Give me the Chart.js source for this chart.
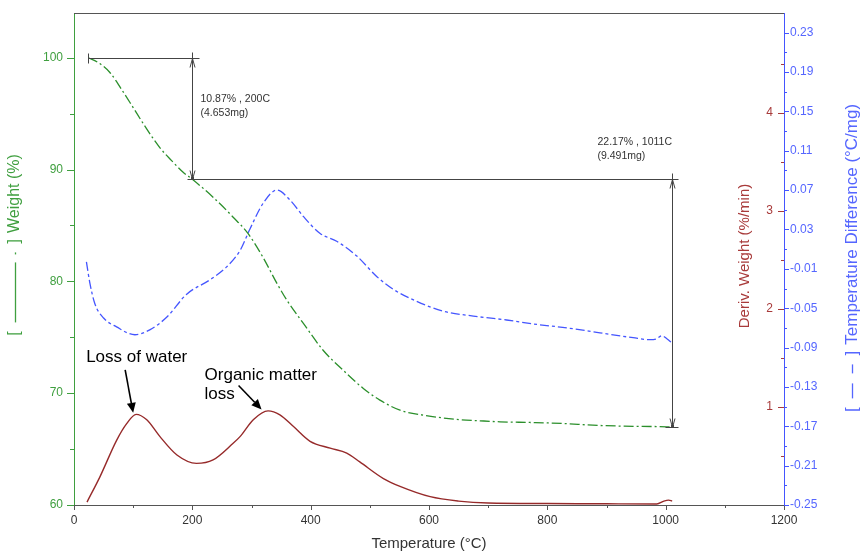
<!DOCTYPE html>
<html>
<head>
<meta charset="utf-8">
<script src="https://cdn.jsdelivr.net/npm/chart.js@4.4.1/dist/chart.umd.min.js"></script>
<style>
  body { margin: 0; background: #fff; }
  #wrap { width: 861px; height: 551px; }
</style>
</head>
<body>
<div id="wrap"><canvas id="grafico"></canvas></div>
<script>
// weight curve (green)
const weightTemp = [24, 40, 61, 80, 100, 117, 145, 165, 184, 200, 235, 269, 294, 320, 343, 360, 388, 421, 455, 489, 517, 551, 590, 647, 686, 720, 771, 826, 877, 928, 1002, 1011];
const weightPct = [100, 99.6, 98.66, 97.2, 95.54, 94.11, 91.96, 90.8, 89.78, 89.13, 87.53, 85.74, 84.29, 82.1, 79.82, 78.3, 76.22, 73.84, 72.05, 70.42, 69.38, 68.48, 68.04, 67.65, 67.53, 67.44, 67.38, 67.29, 67.14, 67.05, 66.99, 66.96];

// derivative weight (red)
const derivTemp = [22, 44, 72, 89, 105, 123, 145, 174, 207, 235, 269, 281, 303, 328, 348, 371, 399, 433, 461, 483, 523, 551, 602, 650, 700, 800, 900, 985, 997, 1005, 1011];
const derivVal = [0.03, 0.29, 0.66, 0.83, 0.925, 0.87, 0.7, 0.51, 0.425, 0.46, 0.63, 0.7, 0.87, 0.96, 0.92, 0.8, 0.65, 0.58, 0.53, 0.44, 0.27, 0.19, 0.085, 0.04, 0.02, 0.015, 0.012, 0.01, 0.04, 0.05, 0.04];

// temperature difference (blue)
const diffTemp = [21, 27, 35, 50, 72, 103, 128, 157, 190, 230, 258, 281, 297, 320, 343, 365, 388, 416, 444, 478, 512, 540, 579, 624, 675, 731, 776, 833, 889, 945, 974, 985, 993, 1002, 1012];
const diffVal = [-0.003, -0.025, -0.045, -0.06, -0.069, -0.077, -0.072, -0.059, -0.036, -0.021, -0.008, 0.009, 0.03, 0.057, 0.07, 0.06, 0.043, 0.026, 0.018, 0.003, -0.018, -0.031, -0.043, -0.053, -0.058, -0.062, -0.066, -0.07, -0.075, -0.08, -0.082, -0.081, -0.078, -0.081, -0.086];

// ticks
const xTicks = [0, 200, 400, 600, 800, 1000, 1200];
const weightTicks = [60, 70, 80, 90, 100];
const derivTicks = [1, 2, 3, 4];
const diffTicks = [-0.25, -0.21, -0.17, -0.13, -0.09, -0.05, -0.01, 0.03, 0.07, 0.11, 0.15, 0.19, 0.23];

// step annotations
const stepTemps = [200, 1011];
const stepLevels = [100, 89.13, 66.96];
const stepLabels = [['10.87% , 200C', '(4.653mg)'], ['22.17% , 1011C', '(9.491mg)']];

// peak notes: arrow tip at [temp, deriv]
const noteTexts = [['Loss of water'], ['Organic matter', 'loss']];
const noteTips = [[100, 0.94], [317, 0.975]];

const FONT = '"Liberation Sans", Arial, sans-serif';
const GREEN = '#2b8f2b';
const GREEN_TXT = '#3f9f3f';
const BLUE = '#4455ff';
const BLUE_TXT = '#5566ff';
const RED = '#962a2a';
const RED_TXT = '#a83a3a';

Chart.defaults.font.family = FONT;

function toPoints(xs, ys) {
    return xs.map((x, i) => ({ x: x, y: ys[i] }));
}

function seg(ctx, x1, y1, x2, y2) {
    ctx.beginPath();
    ctx.moveTo(x1, y1);
    ctx.lineTo(x2, y2);
    ctx.stroke();
}

// rotated axis title, optionally with a "[ line sample ]" key in front
function vTitle(ctx, cx, cy, color, sample, text, size) {
    ctx.save();
    ctx.translate(cx, cy);
    ctx.rotate(-Math.PI / 2);
    ctx.font = size + 'px ' + FONT;
    ctx.fillStyle = color;
    ctx.strokeStyle = color;
    ctx.textBaseline = 'middle';
    ctx.textAlign = 'left';
    let total = ctx.measureText(text).width;
    let bw = 0, sl = 0;
    if (sample) {
        bw = ctx.measureText('[').width;
        sl = Math.max(...sample.map(s => s[0] + s[1]));
        total += bw * 2 + sl + 9 + 9 + 6;
    }
    let p = -total / 2;
    if (sample) {
        ctx.fillText('[', p, 0);
        p += bw + 9;
        ctx.lineWidth = 1.3;
        sample.forEach(s => seg(ctx, p + s[0], 0.5, p + s[0] + s[1], 0.5));
        p += sl + 9;
        ctx.fillText(']', p, 0);
        p += bw + 6;
    }
    ctx.fillText(text, p, 0);
    ctx.restore();
}

function openHead(ctx, x, y, dir) {
    seg(ctx, x, y, x - 2.5, y - dir * 9);
    seg(ctx, x, y, x + 2.5, y - dir * 9);
}

function solidArrow(ctx, x1, y1, x2, y2) {
    ctx.lineWidth = 1.6;
    const ang = Math.atan2(y2 - y1, x2 - x1);
    const L = 10, W = 4.5;
    const bx = x2 - L * Math.cos(ang), by = y2 - L * Math.sin(ang);
    seg(ctx, x1, y1, bx, by);
    ctx.beginPath();
    ctx.moveTo(x2, y2);
    ctx.lineTo(bx + W * Math.sin(ang), by - W * Math.cos(ang));
    ctx.lineTo(bx - W * Math.sin(ang), by + W * Math.cos(ang));
    ctx.closePath();
    ctx.fill();
}

const decor = {
    id: 'decor',
    afterDraw(chart) {
        const ctx = chart.ctx;
        const a = chart.chartArea;
        const xs = chart.scales.x, yw = chart.scales.yW, yd = chart.scales.yD, yt = chart.scales.yT;
        const r = v => Math.round(v) + 0.5;
        ctx.save();
        ctx.lineWidth = 1;

        // top frame line
        ctx.strokeStyle = '#555';
        seg(ctx, a.left, r(a.top), a.right, r(a.top));

        // x tick marks
        for (let v = 0; v <= 1200; v += 100) {
            const px = r(xs.getPixelForValue(v));
            seg(ctx, px, a.bottom, px, a.bottom + (v % 200 === 0 ? 5 : 3));
        }
        // weight tick marks
        ctx.strokeStyle = GREEN_TXT;
        for (let v = 60; v <= 100; v += 5) {
            const py = r(yw.getPixelForValue(v));
            seg(ctx, a.left, py, a.left - (v % 10 === 0 ? 7 : 4), py);
        }
        // temp diff tick marks
        ctx.strokeStyle = BLUE;
        for (let k = 0; k <= 24; k++) {
            const py = r(yt.getPixelForValue(-0.25 + 0.02 * k));
            seg(ctx, a.right, py, a.right + (k % 2 === 0 ? 5 : 3), py);
        }
        // deriv axis (drawn inside the plot, left of the right border)
        ctx.strokeStyle = RED_TXT;
        for (let v = 0.5; v <= 4.5; v += 0.5) {
            const py = r(yd.getPixelForValue(v));
            seg(ctx, a.right, py, a.right - (v % 1 === 0 ? 6 : 3), py);
        }
        ctx.fillStyle = RED_TXT;
        ctx.font = '12px ' + FONT;
        ctx.textAlign = 'right';
        ctx.textBaseline = 'middle';
        derivTicks.forEach(v => ctx.fillText(String(v), a.right - 11, yd.getPixelForValue(v)));

        // axis titles
        vTitle(ctx, 745, 256, RED_TXT, null, 'Deriv. Weight (%/min)', 15);
        vTitle(ctx, 15, 245, GREEN_TXT, [[0, 60], [68, 2]], 'Weight (%)', 16);
        vTitle(ctx, 852, 258, BLUE_TXT, [[0, 15], [25, 9]], 'Temperature Difference (°C/mg)', 17);

        // step annotations
        ctx.strokeStyle = '#444';
        ctx.fillStyle = '#444';
        const x0 = r(xs.getPixelForValue(weightTemp[0]));
        const xa = r(xs.getPixelForValue(stepTemps[0]));
        const xb = r(xs.getPixelForValue(stepTemps[1]));
        const y0 = r(yw.getPixelForValue(stepLevels[0]));
        const y1 = r(yw.getPixelForValue(stepLevels[1]));
        const y2 = r(yw.getPixelForValue(stepLevels[2]));
        seg(ctx, x0, y0, xa + 7, y0);
        seg(ctx, x0, y0 - 5, x0, y0 + 5);
        seg(ctx, xa, y0 - 6, xa, y1);
        seg(ctx, xa - 5, y1, xb + 6, y1);
        seg(ctx, xb, y1 - 6, xb, y2);
        seg(ctx, xb - 7, y2, xb + 6, y2);
        openHead(ctx, xa, y0, -1);
        openHead(ctx, xa, y1, 1);
        openHead(ctx, xb, y1, -1);
        openHead(ctx, xb, y2, 1);
        ctx.fillRect(xa - 1.5, y1 - 2.5, 3, 3);
        ctx.fillRect(xb - 1.5, y2 - 2.5, 3, 3);

        ctx.fillStyle = '#333';
        ctx.font = '10.5px ' + FONT;
        ctx.textAlign = 'left';
        ctx.textBaseline = 'middle';
        ctx.fillText(stepLabels[0][0], xa + 8, y0 + 41);
        ctx.fillText(stepLabels[0][1], xa + 8, y0 + 55);
        ctx.fillText(stepLabels[1][0], xb - 75, y1 - 37);
        ctx.fillText(stepLabels[1][1], xb - 75, y1 - 23);

        // peak notes
        ctx.fillStyle = '#000';
        ctx.strokeStyle = '#000';
        ctx.font = '17px ' + FONT;
        ctx.textBaseline = 'alphabetic';
        const t1x = xs.getPixelForValue(noteTips[0][0]), t1y = yd.getPixelForValue(noteTips[0][1]);
        const t2x = xs.getPixelForValue(noteTips[1][0]), t2y = yd.getPixelForValue(noteTips[1][1]);
        ctx.fillText(noteTexts[0][0], t1x - 47, t1y - 51);
        solidArrow(ctx, t1x - 8, t1y - 43, t1x, t1y);
        ctx.fillText(noteTexts[1][0], t2x - 57, t2y - 29.5);
        ctx.fillText(noteTexts[1][1], t2x - 57, t2y - 10.5);
        solidArrow(ctx, t2x - 23, t2y - 24, t2x, t2y);

        ctx.restore();
    }
};

function fitY(width) {
    return s => {
        s.width = width;
        s.paddingTop = 0;
        s.paddingBottom = 0;
    };
}

new Chart(document.getElementById('grafico'), {
    type: 'line',
    data: {
        datasets: [
            {
                label: 'Weight (%)',
                data: toPoints(weightTemp, weightPct),
                yAxisID: 'yW',
                borderColor: GREEN,
                borderWidth: 1.3,
                borderDash: [10, 3, 2, 3],
                pointRadius: 0,
                cubicInterpolationMode: 'monotone',
                fill: false
            },
            {
                label: 'Temperature Difference',
                data: toPoints(diffTemp, diffVal),
                yAxisID: 'yT',
                borderColor: BLUE,
                borderWidth: 1.3,
                borderDash: [9, 3, 3, 3],
                pointRadius: 0,
                cubicInterpolationMode: 'monotone',
                fill: false
            },
            {
                label: 'Deriv. Weight',
                data: toPoints(derivTemp, derivVal),
                yAxisID: 'yD',
                borderColor: RED,
                borderWidth: 1.4,
                pointRadius: 0,
                cubicInterpolationMode: 'monotone',
                fill: false
            }
        ]
    },
    options: {
        responsive: true,
        maintainAspectRatio: false,
        animation: false,
        layout: { padding: { top: 13, left: 0, right: 0, bottom: 0 } },
        plugins: {
            legend: { display: false },
            tooltip: { enabled: false }
        },
        scales: {
            x: {
                type: 'linear',
                min: 0,
                max: 1200,
                afterBuildTicks: s => { s.ticks = xTicks.map(v => ({ value: v })); },
                afterFit: s => { s.height = 46; s.paddingLeft = 0; s.paddingRight = 0; },
                grid: { drawOnChartArea: false, drawTicks: false },
                border: { color: '#555', width: 1 },
                ticks: { color: '#333', font: { size: 12 }, padding: 8, maxRotation: 0, autoSkip: false, callback: v => String(v) },
                title: { display: true, text: 'Temperature (°C)', color: '#333', font: { size: 15, lineHeight: 1 }, padding: { top: 0, bottom: 0 } }
            },
            yW: {
                position: 'left',
                min: 60,
                max: 104,
                afterBuildTicks: s => { s.ticks = weightTicks.map(v => ({ value: v })); },
                afterFit: fitY(74),
                grid: { drawOnChartArea: false, drawTicks: false },
                border: { color: GREEN_TXT, width: 1 },
                ticks: { color: GREEN_TXT, font: { size: 12 }, padding: 11, callback: v => String(v) }
            },
            yT: {
                position: 'right',
                min: -0.25,
                max: 0.25,
                afterBuildTicks: s => { s.ticks = diffTicks.map(v => ({ value: v })); },
                afterFit: fitY(77),
                grid: { drawOnChartArea: false, drawTicks: false },
                border: { color: BLUE, width: 1 },
                ticks: { color: BLUE_TXT, font: { size: 12 }, padding: 6, callback: v => v.toFixed(2) }
            },
            yD: {
                display: false,
                min: 0,
                max: 5.02
            }
        }
    },
    plugins: [decor]
});
</script>
</body>
</html>
